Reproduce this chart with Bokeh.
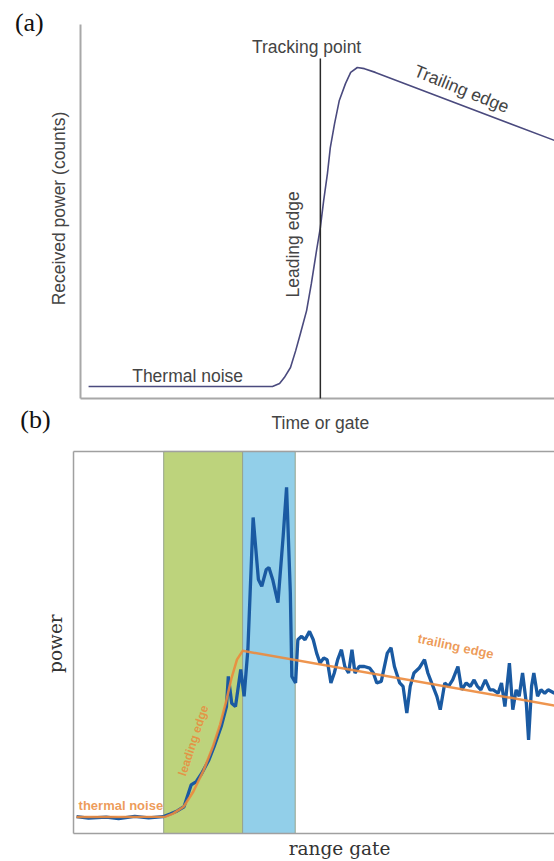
import math
from bokeh.plotting import figure
from bokeh.models import Range1d, Label
from bokeh.layouts import column
from bokeh.embed import file_html
from bokeh.resources import INLINE

# ---------------- data: panel (a) schematic waveform ----------------
a_time = [1.7, 40.5, 42.0, 43.0, 44.3, 45.4, 46.4, 47.7, 48.7, 49.8, 50.6, 51.3,
          52.1, 52.7, 53.6, 54.6, 55.9, 57.0, 58.4, 59.9, 62.2, 100.0]
a_power = [3.2, 3.2, 4.0, 5.6, 8.3, 12.8, 17.4, 23.5, 30.7, 39.6, 45.7, 52.9,
           60.2, 67.1, 73.5, 79.7, 84.2, 87.2, 88.5, 88.2, 87.2, 69.0]
a_axis_time = [0.0, 100.0]
a_axis_power = [0.0, 100.0]
track_time = 50.6
track_top = 90.9

# ---------------- data: panel (b) measured waveform ----------------
b_gate = [0.8, 4.0, 8.7, 12.0, 16.3, 20.0, 23.8, 25.7, 27.6, 29.4, 31.3, 32.7, 34.1,
          36.0, 37.4, 39.3, 40.7, 41.2, 42.1, 43.1, 44.5, 45.4, 46.4, 47.8, 49.2, 50.1,
          51.3, 52.0, 53.0, 54.4, 55.8, 56.7, 57.7, 58.1, 59.1, 59.7, 60.7, 61.6, 62.8,
          63.8, 64.7, 65.6, 66.6, 67.5, 68.5, 69.4, 70.3, 71.3, 72.2, 73.2, 74.1, 74.9,
          76.0, 77.4, 78.8, 79.8, 80.7, 81.9, 83.5, 84.5, 85.4, 86.8, 87.7, 88.7, 89.6,
          90.6, 92.0, 93.4, 94.3, 95.3, 96.7, 97.6, 98.8, 99.8, 100.9, 102.3, 103.3,
          104.5, 105.6, 106.6, 107.5, 108.4, 109.6, 110.8, 111.7, 113.0, 113.9, 114.8,
          116.0, 116.9, 117.8, 118.6, 119.5, 120.5, 121.1, 121.9, 122.5, 123.5, 124.4,
          125.4, 126.3, 128.0]
b_power = [4.4, 4.0, 4.3, 3.9, 4.5, 4.1, 4.4, 5.1, 5.9, 7.0, 12.7, 13.6, 15.7,
           19.2, 22.7, 28.0, 33.2, 41.1, 34.1, 33.2, 42.9, 35.9, 48.1, 82.7, 66.5, 64.7,
           69.1, 69.6, 66.5, 60.4, 77.9, 90.6, 63.0, 41.1, 39.4, 50.7, 51.6, 50.7, 52.9,
           50.7, 47.2, 44.6, 45.9, 45.5, 39.4, 42.0, 45.5, 48.1, 43.7, 42.0, 48.1, 42.0,
           43.7, 43.7, 43.3, 42.0, 39.4, 39.8, 47.2, 48.6, 43.7, 39.4, 38.5, 31.5, 38.5,
           42.0, 43.3, 45.5, 42.0, 39.4, 35.9, 32.4, 39.4, 38.5, 40.2, 43.7, 37.6,
           39.4, 38.5, 40.2, 38.5, 37.6, 40.2, 37.6, 37.6, 36.7, 39.4, 33.2,
           44.6, 32.4, 37.6, 35.9, 42.0, 34.1, 24.5, 38.5, 42.0, 35.9, 37.6,
           36.7, 37.6, 36.7]
fit_gate = [0.8, 24.5, 26.5, 29.3, 31.9, 34.6, 37.0, 39.0, 40.6, 42.0, 43.5, 45.0, 128.0]
fit_power = [4.3, 4.4, 5.2, 7.0, 11.0, 16.5, 22.5, 28.5, 34.5, 40.5, 45.5, 47.8, 33.5]
b_axis_gate = [0.0, 128.0]
b_axis_power = [0.0, 100.0]
band_left = [24.0, 45.0]
band_right = [45.0, 59.0]
band_colors = ["#bdd37c", "#92cfe9"]

SANS = "Liberation Sans"
SERIF = "DejaVu Serif"
TXT = "#444444"
AXIS_GRAY = "#a8a8a8"
BOX_GRAY = "#a0a0a0"

# ---------------- panel (a) ----------------
pa = figure(width=554, height=436, x_range=Range1d(-16.88, 100), y_range=Range1d(-10.16, 106.42),
            output_backend="svg", toolbar_location=None,
            x_axis_location=None, y_axis_location=None,
            min_border_left=0, min_border_right=0, min_border_top=0, min_border_bottom=0)
pa.grid.visible = False
pa.outline_line_color = None

# axis lines of the schematic
pa.line([a_axis_time[0], a_axis_time[0]], a_axis_power, line_color=AXIS_GRAY, line_width=2)
pa.line(a_axis_time, [a_axis_power[0], a_axis_power[0]], line_color=AXIS_GRAY, line_width=2)

pa.line(a_time, a_power, line_color="#4a4a7e", line_width=1.6)
pa.segment(x0=[track_time], y0=[0], x1=[track_time], y1=[track_top],
           line_color="#2a2a2a", line_width=1.5)

for txt, x, y, ang in [("Tracking point", 47.7, 93.9, 0.0),
                       ("Thermal noise", 22.6, 6.1, 0.0),
                       ("Leading edge", 44.9, 41.2, math.pi / 2),
                       ("Trailing edge", 80.4, 82.8, -0.385),
                       ("Received power (counts)", -4.64, 50.8, math.pi / 2),
                       ("Time or gate", 50.6, -6.42, 0.0)]:
    pa.add_layout(Label(x=x, y=y, text=txt, angle=ang, text_font=SANS,
                        text_font_size="17.5px", text_color=TXT,
                        text_align="center", text_baseline="middle"))

pa.add_layout(Label(x=-10.8, y=100.5, text="(a)", text_font="Liberation Serif",
                    text_font_size="26px", text_color="#111111",
                    text_align="center", text_baseline="middle"))
pa.add_layout(Label(x=-9.5, y=-5.6, text="(b)", text_font="Liberation Serif",
                    text_font_size="26px", text_color="#111111",
                    text_align="center", text_baseline="middle"))

# ---------------- panel (b) ----------------
pb = figure(width=554, height=425, x_range=Range1d(-19.43, 128), y_range=Range1d(-7.33, 103.9),
            output_backend="svg", toolbar_location=None,
            x_axis_location=None, y_axis_location=None,
            min_border_left=0, min_border_right=0, min_border_top=0, min_border_bottom=0)
pb.grid.visible = False
pb.outline_line_color = None

pb.quad(left=band_left, right=band_right, bottom=b_axis_power[0], top=b_axis_power[1],
        fill_color=band_colors, line_color="#97a38c", line_width=1)

# box around the waveform plot
pb.line([b_axis_gate[0], b_axis_gate[0]], b_axis_power, line_color=BOX_GRAY, line_width=1.5)
pb.line(b_axis_gate, [b_axis_power[0], b_axis_power[0]], line_color=BOX_GRAY, line_width=1.5)
pb.line(b_axis_gate, [b_axis_power[1], b_axis_power[1]], line_color=BOX_GRAY, line_width=1.5)

pb.line(b_gate, b_power, line_color="#1a5aa2", line_width=3.3)
pb.line(fit_gate, fit_power, line_color="#ec8a3c", line_width=2.5, line_alpha=0.9)

for txt, x, y, ang, sz in [("thermal noise", 12.6, 7.3, 0.0, "13px"),
                           ("leading edge", 31.9, 24.3, 1.257, "12px"),
                           ("trailing edge", 101.7, 49.0, -0.21, "13px")]:
    pb.add_layout(Label(x=x, y=y, text=txt, angle=ang, text_font=SANS,
                        text_font_size=sz, text_font_style="bold",
                        text_color="#ea8a3c", text_alpha=0.85,
                        text_align="center", text_baseline="middle"))

for txt, x, y, ang in [("power", -4.79, 49.7, math.pi / 2),
                       ("range gate", 70.8, -3.9, 0.0)]:
    pb.add_layout(Label(x=x, y=y, text=txt, angle=ang, text_font=SERIF,
                        text_font_size="18.5px", text_color="#333333",
                        text_align="center", text_baseline="middle"))

layout = column(pa, pb)
open("out.html", "w").write(file_html(layout, INLINE))
